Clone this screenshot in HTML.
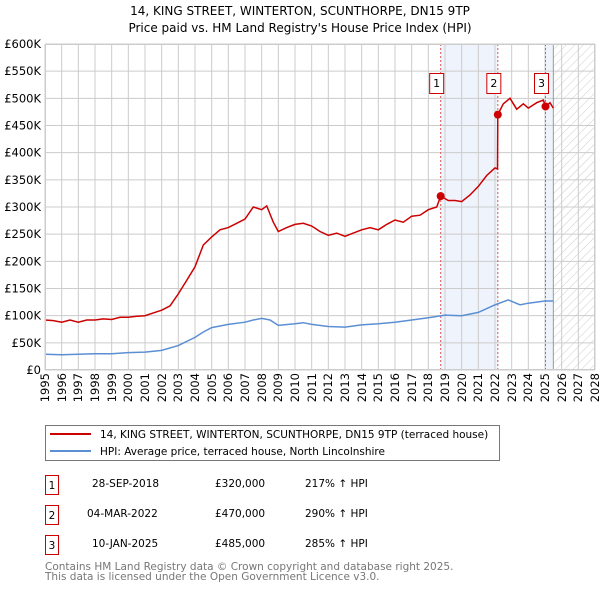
<!DOCTYPE html>
<html><head><meta charset="utf-8">
<style>
body{margin:0;background:#fff;font-family:"DejaVu Sans","Liberation Sans",sans-serif;}
svg text{font-family:"DejaVu Sans","Liberation Sans",sans-serif;}
#wrap{position:relative;width:600px;height:590px;}
#chart{position:absolute;left:0;top:0;}
.xl{position:absolute;width:32px;height:14px;line-height:14px;font-size:11.5px;text-align:right;transform:rotate(-90deg);transform-origin:50% 50%;white-space:nowrap;}
</style></head>
<body>
<div id="wrap">
<svg id="chart" width="600" height="590" xmlns="http://www.w3.org/2000/svg">
<defs>
<pattern id="hatch" width="6" height="6" patternUnits="userSpaceOnUse" patternTransform="rotate(45)">
<line x1="0" y1="0" x2="0" y2="6" stroke="#ccc" stroke-width="1"/>
</pattern>
</defs>
<text x="300" y="15" text-anchor="middle" font-size="12" fill="#000">14, KING STREET, WINTERTON, SCUNTHORPE, DN15 9TP</text>
<text x="300" y="32" text-anchor="middle" font-size="12" fill="#000">Price paid vs. HM Land Registry's House Price Index (HPI)</text>
<g id="plot"></g>
<g>
<rect x="45.5" y="425.5" width="454" height="35" fill="#fff" stroke="#777"/>
<line x1="50" y1="434" x2="91" y2="434" stroke="#cc0000" stroke-width="2"/>
<text x="100" y="438" font-size="10.5">14, KING STREET, WINTERTON, SCUNTHORPE, DN15 9TP (terraced house)</text>
<line x1="50" y1="451" x2="91" y2="451" stroke="#5b8fd4" stroke-width="2"/>
<text x="100" y="455" font-size="10.5">HPI: Average price, terraced house, North Lincolnshire</text>
</g>
<g font-size="10.5">
<rect x="45.5" y="475.5" width="13" height="19" fill="#fff" stroke="#cc0000"/><text x="52" y="489" text-anchor="middle">1</text>
<text x="92" y="487">28-SEP-2018</text><text x="215" y="487">£320,000</text><text x="305" y="487">217% ↑ HPI</text>
<rect x="45.5" y="505.5" width="13" height="19" fill="#fff" stroke="#cc0000"/><text x="52" y="519" text-anchor="middle">2</text>
<text x="87" y="517">04-MAR-2022</text><text x="215" y="517">£470,000</text><text x="305" y="517">290% ↑ HPI</text>
<rect x="45.5" y="535.5" width="13" height="19" fill="#fff" stroke="#cc0000"/><text x="52" y="549" text-anchor="middle">3</text>
<text x="92" y="547">10-JAN-2025</text><text x="215" y="547">£485,000</text><text x="305" y="547">285% ↑ HPI</text>
</g>
<text x="45" y="570" font-size="10.5" fill="#777">Contains HM Land Registry data © Crown copyright and database right 2025.</text>
<text x="45" y="580" font-size="10.5" fill="#777">This data is licensed under the Open Government Licence v3.0.</text>
</svg>
</div>
<script>
const redYears=[1995,1995.5,1996,1996.5,1997,1997.5,1998,1998.5,1999,1999.5,2000,2000.5,2001,2001.5,2002,2002.5,2003,2003.5,2004,2004.5,2005,2005.5,2006,2006.5,2007,2007.5,2008,2008.3,2008.7,2009,2009.5,2010,2010.5,2011,2011.5,2012,2012.5,2013,2013.5,2014,2014.5,2015,2015.5,2016,2016.5,2017,2017.5,2018,2018.5,2018.74,2019.2,2019.6,2020,2020.5,2021,2021.5,2022,2022.15,2022.17,2022.5,2022.9,2023.3,2023.7,2024,2024.5,2024.9,2025.03,2025.3,2025.5];
const redValues=[92,91,88,92,88,92,92,94,93,97,97,99,100,105,110,118,140,165,190,230,245,258,262,270,278,300,295,302,272,255,262,268,270,265,255,248,252,246,252,258,262,258,268,276,272,283,285,295,300,320,312,312,310,322,338,358,372,370,470,490,500,480,490,482,492,497,485,492,482];
const hpiYears=[1995,1996,1997,1998,1999,2000,2001,2002,2003,2004,2004.5,2005,2006,2007,2007.5,2008,2008.5,2009,2010,2010.5,2011,2012,2013,2014,2015,2016,2017,2018,2019,2020,2021,2022,2022.8,2023.5,2024,2025,2025.5];
const hpiValues=[29,28,29,30,30,32,33,36,45,60,70,78,84,88,92,95,92,82,85,87,84,80,79,83,85,88,92,96,101,100,106,120,129,120,123,127,127];
const saleYears=[2018.74,2022.17,2025.03];
const saleValues=[320,470,485];
const saleLabels=["1","2","3"];
const yTicks=[0,50,100,150,200,250,300,350,400,450,500,550,600];
const yLabels=["£0","£50K","£100K","£150K","£200K","£250K","£300K","£350K","£400K","£450K","£500K","£550K","£600K"];
const xTicks=[1995,1996,1997,1998,1999,2000,2001,2002,2003,2004,2005,2006,2007,2008,2009,2010,2011,2012,2013,2014,2015,2016,2017,2018,2019,2020,2021,2022,2023,2024,2025,2026,2027,2028];

const L=45,R=595,T=44,B=370,x0=1995,x1=2028,ymax=600;
const X=v=>L+(v-x0)/(x1-x0)*(R-L);
const Y=v=>B-v/ymax*(B-T);
const NS="http://www.w3.org/2000/svg";
const g=document.getElementById('plot');
const wrap=document.getElementById('wrap');
function mk(tag,attrs,parent){const e=document.createElementNS(NS,tag);for(const k in attrs)e.setAttribute(k,attrs[k]);(parent||g).appendChild(e);return e;}
let e;
e=mk('rect',{x:X(saleYears[0]),y:T,width:X(saleYears[1])-X(saleYears[0]),height:B-T,fill:'#eef3fc'});


e=mk('rect',{x:X(saleYears[2]),y:T,width:X(2025.5)-X(saleYears[2]),height:B-T,fill:'#eef3fc'});


e=mk('rect',{x:X(2025.5),y:T,width:R-X(2025.5),height:B-T,fill:'url(#hatch)'});


yTicks.forEach((t,i)=>{
  e=mk('line',{x1:L,x2:R,y1:Y(t),y2:Y(t),stroke:'#ccc','stroke-width':1});
  
  
  e=mk('text',{x:L-4,y:Y(t)+4,'text-anchor':'end','font-size':11.5});
  e.textContent=yLabels[i];
  
  
});
xTicks.forEach(t=>{
  e=mk('line',{x1:X(t),x2:X(t),y1:T,y2:B,stroke:'#ccc','stroke-width':1});
  
  
  const d=document.createElement('div');
  d.className='xl';
  d.style.left=(X(t)-16)+'px';
  d.style.top=(B+19-7)+'px';
  d.textContent=t;
  
  
  wrap.appendChild(d);
});
e=mk('line',{x1:X(2025.5),x2:X(2025.5),y1:T,y2:B,stroke:'#999','stroke-width':1});


saleYears.forEach((s,i)=>{
  e=mk('line',{x1:X(s),x2:X(s),y1:T,y2:B,stroke:'#e05555','stroke-width':1,'stroke-dasharray':'2,2'});
  
  
  e=mk('rect',{x:X(s)-11,y:73.5,width:14,height:20,fill:'#fff',stroke:'#cc0000'});
  
  
  e=mk('text',{x:X(s)-4,y:87,'text-anchor':'middle','font-size':11});
  e.textContent=saleLabels[i];
  
  
});
e=mk('path',{d:hpiYears.map((v,i)=>(i?'L':'M')+X(v).toFixed(1)+','+Y(hpiValues[i]).toFixed(1)).join(''),fill:'none',stroke:'#5b8fd4','stroke-width':1.5});


e=mk('path',{d:redYears.map((v,i)=>(i?'L':'M')+X(v).toFixed(1)+','+Y(redValues[i]).toFixed(1)).join(''),fill:'none',stroke:'#cc0000','stroke-width':1.5});


saleYears.forEach((s,i)=>{
  e=mk('circle',{cx:X(s),cy:Y(saleValues[i]),r:4,fill:'#cc0000'});
  
  
});
e=mk('rect',{x:L+0.5,y:T+0.5,width:R-L-1,height:B-T-1,fill:'none',stroke:'#ccc'});


</script>
</body></html>
